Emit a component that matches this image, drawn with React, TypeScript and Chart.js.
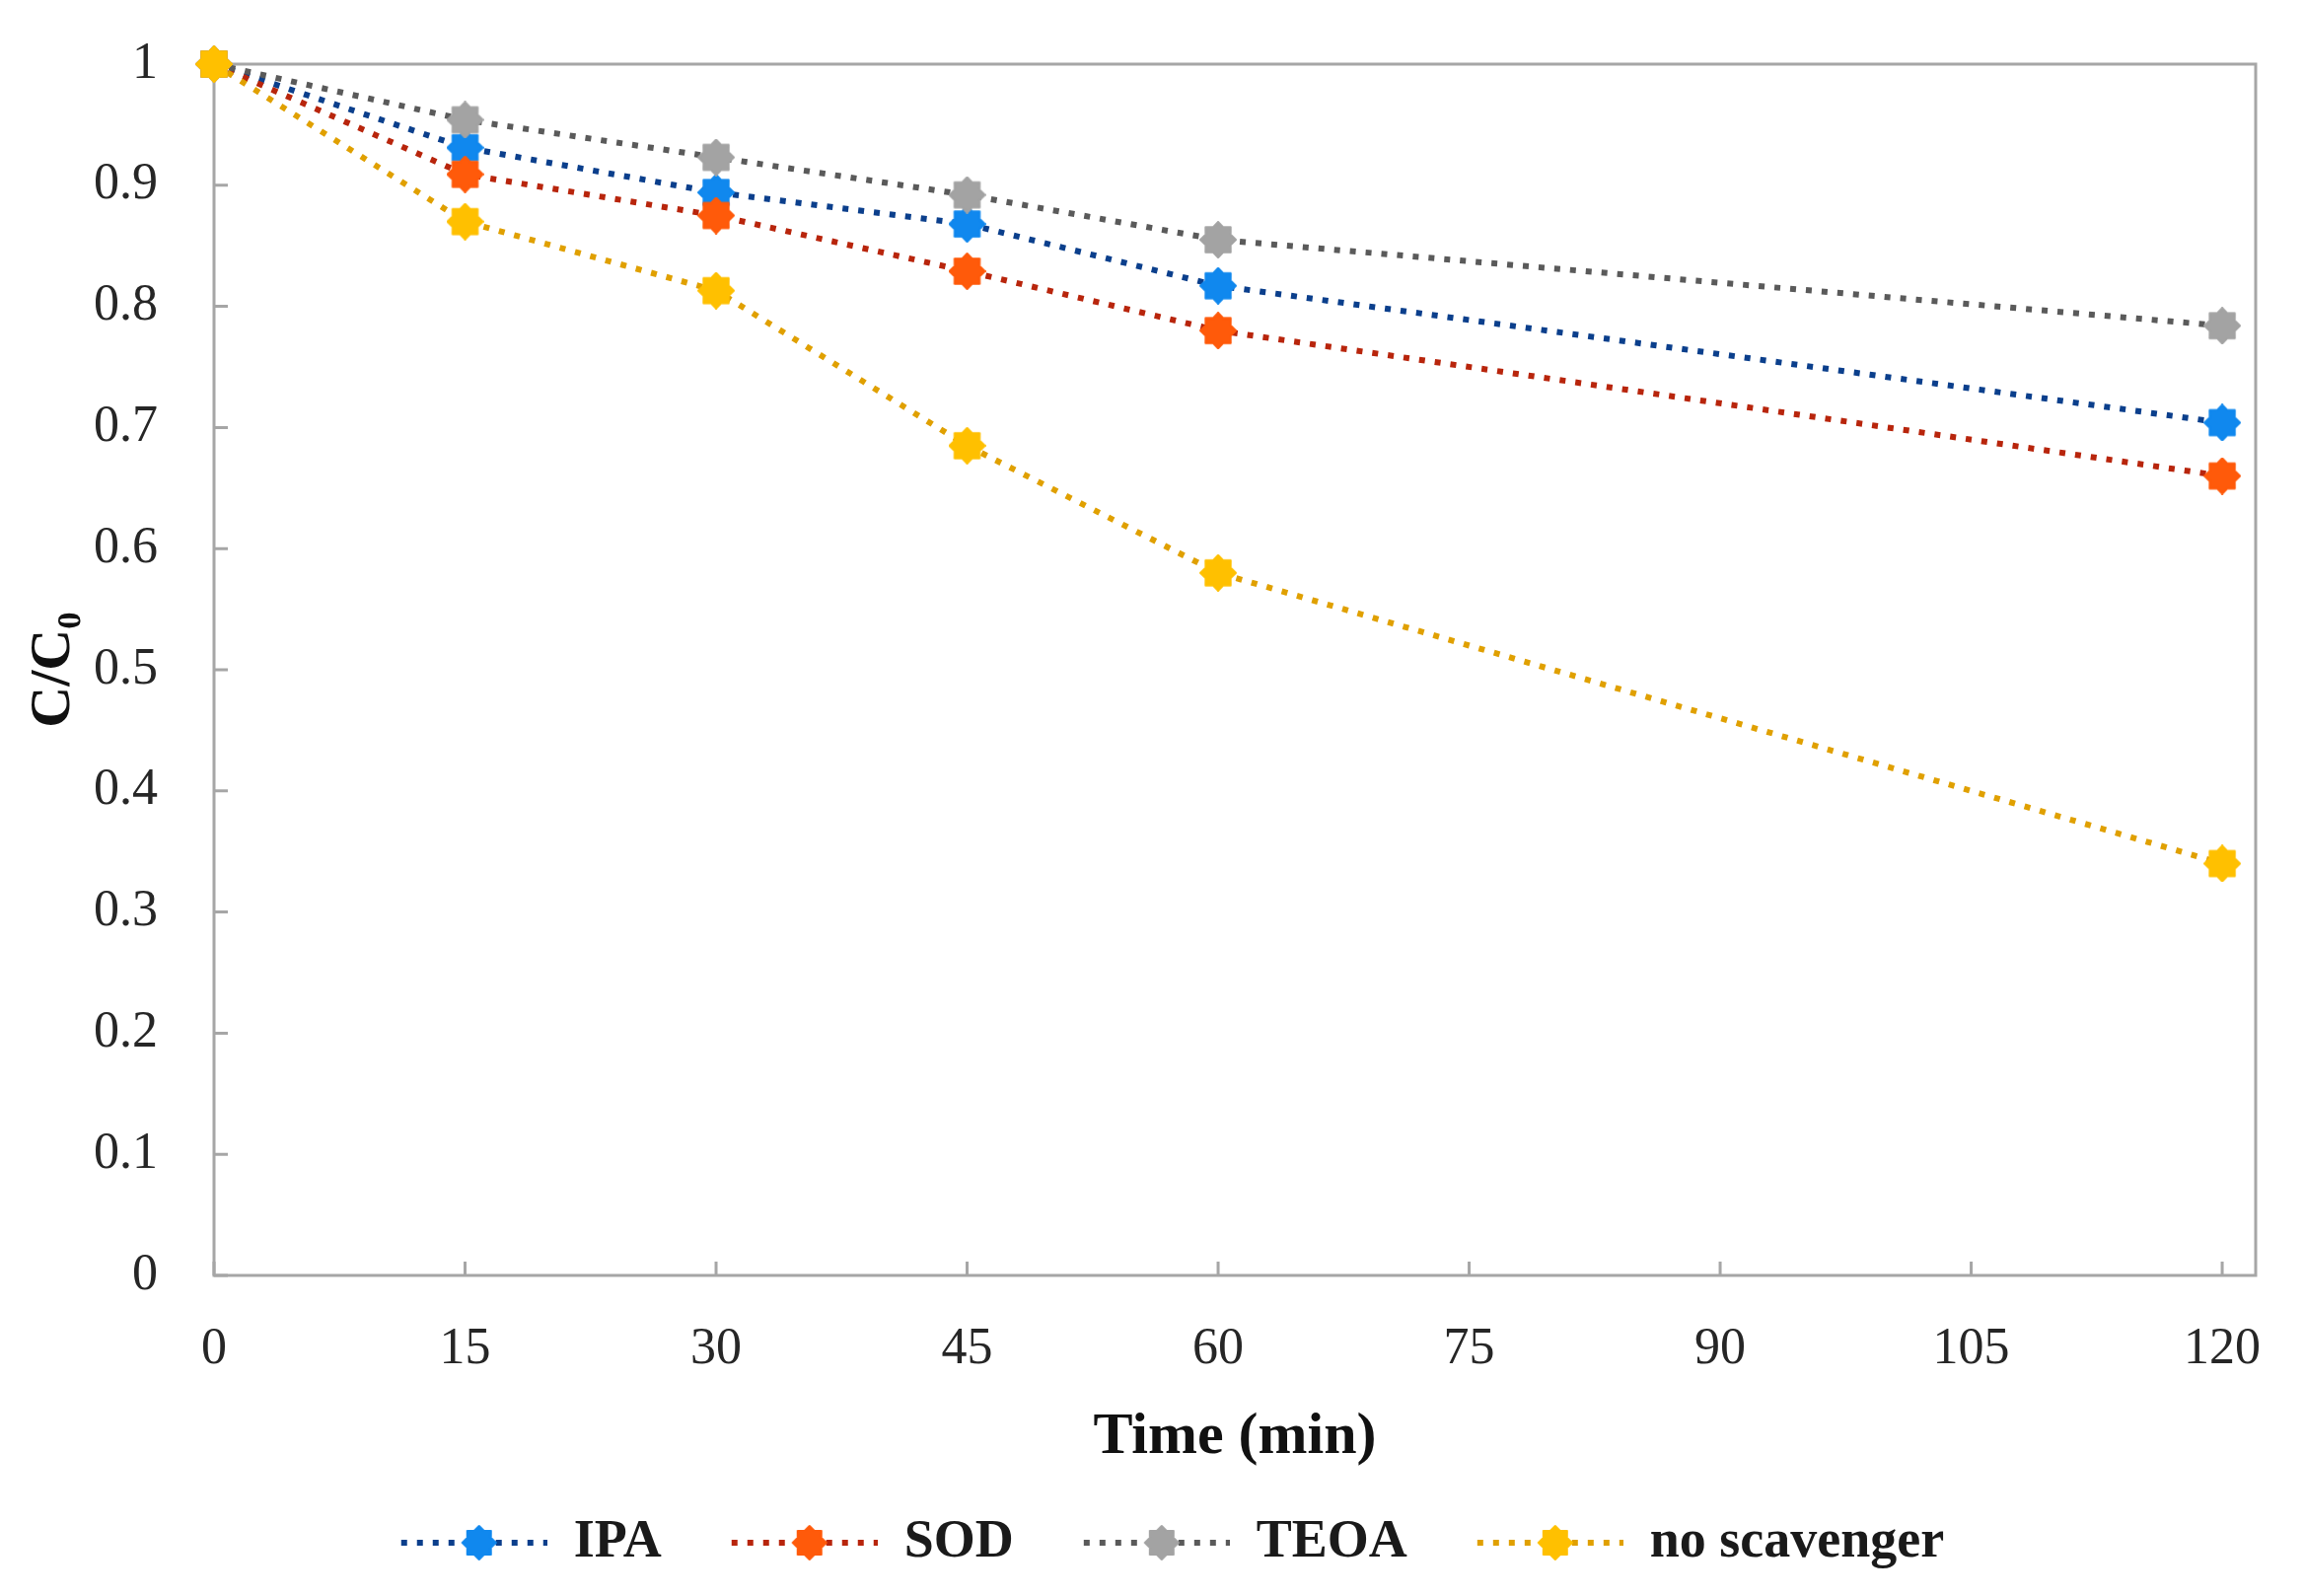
import React, { useEffect, useRef } from "react";
import { Chart, registerables } from "chart.js";

Chart.register(...registerables);

const timeMin = [0, 15, 30, 45, 60, 120];
const seriesNames = ["IPA", "SOD", "TEOA", "no scavenger"];
const ipaValues = [1, 0.931, 0.894, 0.868, 0.817, 0.704];
const sodValues = [1, 0.909, 0.875, 0.829, 0.78, 0.66];
const teoaValues = [1, 0.954, 0.923, 0.892, 0.855, 0.784];
const noScavengerValues = [1, 0.87, 0.813, 0.685, 0.58, 0.34];
const xTickValues = [0, 15, 30, 45, 60, 75, 90, 105, 120];

const lineColors = ["#0b3f8c", "#b8250c", "#5a5a5a", "#e0a000"];
const markerColors = ["#1088ee", "#ff5a0a", "#a3a3a3", "#ffc000"];

const FONT = "'Liberation Serif', 'DejaVu Serif', 'Times New Roman', serif";

function makeStar(color: string, size = 38) {
  const c = document.createElement("canvas");
  c.width = size;
  c.height = size;
  const ctx = c.getContext("2d")!;
  drawStar(ctx, size / 2, size / 2, color, size);
  return c;
}

function drawStar(ctx: CanvasRenderingContext2D, cx: number, cy: number, color: string, size: number) {
  const n = 8;
  const ro = size / 2 - 1;
  const ri = ro * 0.76;
  ctx.beginPath();
  for (let i = 0; i < n * 2; i++) {
    const r = i % 2 === 0 ? ro : ri;
    const a = (Math.PI * i) / n - Math.PI / 2;
    const px = cx + r * Math.cos(a);
    const py = cy + r * Math.sin(a);
    if (i === 0) ctx.moveTo(px, py);
    else ctx.lineTo(px, py);
  }
  ctx.closePath();
  ctx.fillStyle = color;
  ctx.fill();
  ctx.lineJoin = "round";
  ctx.lineWidth = 2;
  ctx.strokeStyle = color;
  ctx.stroke();
}

const LEGEND_BOX = 194;
const LEGEND_LINE = 148;

function makeLegendImage(lineColor: string, markerColor: string) {
  const c = document.createElement("canvas");
  c.width = LEGEND_BOX;
  c.height = 44;
  const ctx = c.getContext("2d")!;
  const start = LEGEND_BOX - LEGEND_LINE;
  ctx.strokeStyle = lineColor;
  ctx.lineWidth = 6;
  ctx.setLineDash([6, 10]);
  ctx.beginPath();
  ctx.moveTo(start, 22);
  ctx.lineTo(LEGEND_BOX, 22);
  ctx.stroke();
  ctx.setLineDash([]);
  drawStar(ctx, start + 79, 22, markerColor, 36);
  return c;
}

const frameAndTicks = {
  id: "frameAndTicks",
  beforeDatasetsDraw(chart: any) {
    const { ctx, chartArea } = chart;
    const { left, right, top, bottom } = chartArea;
    ctx.save();
    ctx.strokeStyle = "#a6a6a6";
    ctx.lineWidth = 3;
    ctx.strokeRect(left, top, right - left, bottom - top);
    const xs = chart.scales.x;
    const ys = chart.scales.y;
    ctx.lineWidth = 3;
    ctx.beginPath();
    xs.ticks.forEach((t: any, i: number) => {
      const px = xs.getPixelForTick(i);
      ctx.moveTo(px, bottom);
      ctx.lineTo(px, bottom - 14);
    });
    ys.ticks.forEach((t: any, i: number) => {
      const py = ys.getPixelForTick(i);
      ctx.moveTo(left, py);
      ctx.lineTo(left + 14, py);
    });
    ctx.stroke();
    ctx.restore();
  },
};

export default function App() {
  const ref = useRef<HTMLCanvasElement | null>(null);

  useEffect(() => {
    document.body.style.margin = "0";
    document.body.style.overflow = "hidden";
    const values = [ipaValues, sodValues, teoaValues, noScavengerValues];
    const stars = markerColors.map((c) => makeStar(c));
    const legendImgs = lineColors.map((c, i) => makeLegendImage(c, markerColors[i]));

    const datasets = seriesNames.map((name, i) => ({
      label: name,
      data: timeMin.map((t, j) => ({ x: t, y: values[i][j] })),
      borderColor: lineColors[i],
      backgroundColor: markerColors[i],
      borderWidth: 6,
      borderDash: [6, 10],
      pointStyle: stars[i],
      pointRadius: 18,
      pointHoverRadius: 18,
      tension: 0,
      clip: false,
      order: seriesNames.length - i,
    }));

    const chart = new Chart(ref.current!, {
      type: "line",
      data: { datasets },
      plugins: [frameAndTicks],
      options: {
        animation: false,
        responsive: true,
        maintainAspectRatio: false,
        devicePixelRatio: 1,
        layout: { padding: { top: 65, right: 49, left: 45, bottom: 17 } },
        plugins: {
          tooltip: { enabled: false },
          legend: {
            position: "bottom",
            labels: {
              usePointStyle: true,
              pointStyleWidth: LEGEND_BOX,
              padding: 25,
              color: "#1a1a1a",
              font: { family: FONT, size: 54, weight: "bold" },
              generateLabels: () =>
                seriesNames.map((name, i) => ({
                  text: name,
                  datasetIndex: i,
                  fillStyle: markerColors[i],
                  strokeStyle: lineColors[i],
                  lineWidth: 0,
                  hidden: false,
                  pointStyle: legendImgs[i],
                  fontColor: "#1a1a1a",
                })),
            },
          },
        },
        scales: {
          x: {
            type: "linear",
            min: 0,
            max: 122,
            grid: { display: false },
            border: { display: false },
            afterFit: (s: any) => {
              s.height = 219;
            },
            afterBuildTicks: (s: any) => {
              s.ticks = xTickValues.map((v) => ({ value: v }));
            },
            ticks: {
              color: "#262626",
              padding: 36,
              font: { family: FONT, size: 52 },
              callback: (v: any) => String(v),
            },
            title: {
              display: true,
              text: "Time (min)",
              color: "#111",
              font: { family: FONT, size: 60, weight: "bold" },
              padding: { top: 0, bottom: 19 },
            },
          },
          y: {
            min: 0,
            max: 1,
            grid: { display: false },
            border: { display: false },
            afterFit: (s: any) => {
              s.width = 172;
              s.paddingTop = 0;
              s.paddingBottom = 0;
            },
            ticks: {
              stepSize: 0.1,
              color: "#262626",
              padding: 49,
              font: { family: FONT, size: 52 },
              callback: (v: any) => String(Number(Number(v).toFixed(1))),
            },
            title: {
              display: true,
              text: "C/C₀",
              color: "#111",
              font: { family: FONT, size: 58, weight: "bold", lineHeight: 1 },
              padding: { top: -19, bottom: 0 },
            },
          },
        },
      },
    });
    return () => chart.destroy();
  }, []);

  return (
    <div style={{ width: "2336px", height: "1618px", position: "relative", background: "#fff" }}>
      <canvas ref={ref} />
    </div>
  );
}
